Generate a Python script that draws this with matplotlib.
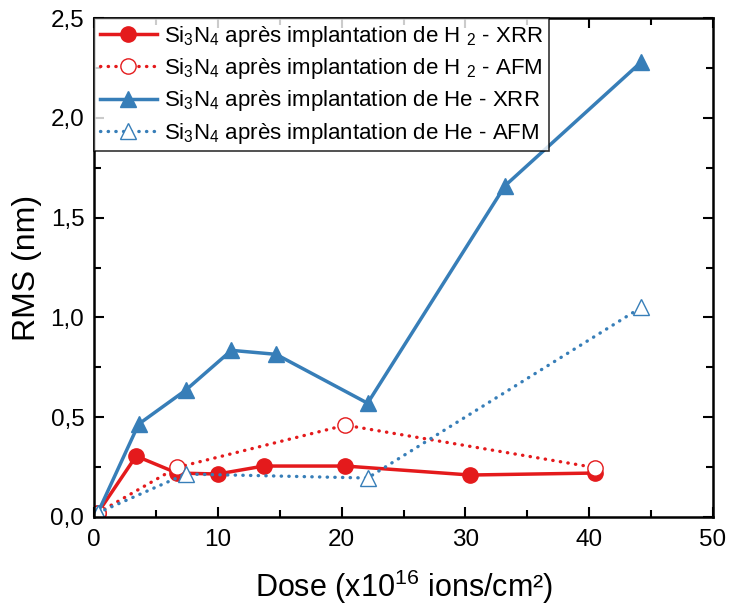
import matplotlib
matplotlib.use("Agg")
import matplotlib.pyplot as plt
from matplotlib.ticker import MultipleLocator, FuncFormatter

plt.rcParams['font.family'] = ['Liberation Sans', 'DejaVu Sans']
plt.rcParams['mathtext.fontset'] = 'custom'
plt.rcParams['mathtext.rm'] = 'Liberation Sans'
plt.rcParams['mathtext.it'] = 'Liberation Sans'

# Data
h2_xrr_x = [0.3, 3.4, 6.7, 10.0, 13.7, 20.3, 30.4, 40.5]
h2_xrr_y = [0.02, 0.305, 0.22, 0.215, 0.255, 0.255, 0.21, 0.22]
h2_afm_x = [0.3, 6.7, 20.3, 40.5]
h2_afm_y = [0.02, 0.248, 0.46, 0.247]
he_xrr_x = [0.3, 3.6, 7.4, 11.1, 14.7, 22.1, 33.2, 44.2]
he_xrr_y = [0.02, 0.465, 0.635, 0.835, 0.815, 0.57, 1.66, 2.28]
he_afm_x = [0.3, 7.4, 22.1, 44.2]
he_afm_y = [0.02, 0.215, 0.195, 1.05]

labels = [r'Si$_3$N$_4$ après implantation de H $_2$ - XRR',
          r'Si$_3$N$_4$ après implantation de H $_2$ - AFM',
          r'Si$_3$N$_4$ après implantation de He - XRR',
          r'Si$_3$N$_4$ après implantation de He - AFM']

red = '#E41A1C'
blue = '#377EB8'

fig = plt.figure(figsize=(7.29, 6.06), dpi=100)
ax = fig.add_axes([0.129, 0.147, 0.849, 0.823])

dot = (0, (0.1, 2.2))
ax.plot(h2_xrr_x, h2_xrr_y, '-', color=red, lw=2.5, marker='o', ms=11,
        mfc=red, mec=red, label=labels[0])
ax.plot(h2_afm_x, h2_afm_y, linestyle=dot, dash_capstyle='round', color=red, lw=2.4,
        marker='o', ms=11, mfc='white', mec=red, mew=1.0, label=labels[1])
ax.plot(he_xrr_x, he_xrr_y, '-', color=blue, lw=2.5, marker='^', ms=12,
        mfc=blue, mec=blue, label=labels[2])
ax.plot(he_afm_x, he_afm_y, linestyle=dot, dash_capstyle='round', color=blue, lw=2.4,
        marker='^', ms=12, mfc='white', mec=blue, mew=1.0, label=labels[3])

ax.set_xlim(0, 50)
ax.set_ylim(0, 2.5)
ax.xaxis.set_major_locator(MultipleLocator(10))
ax.xaxis.set_minor_locator(MultipleLocator(5))
ax.yaxis.set_major_locator(MultipleLocator(0.5))
ax.yaxis.set_minor_locator(MultipleLocator(0.25))
ax.yaxis.set_major_formatter(FuncFormatter(lambda v, p: f"{v:.1f}".replace('.', ',')))
ax.tick_params(which='both', direction='in', top=True, right=True, width=1.5,
               labelsize=17.5)
ax.tick_params(axis='y', which='major', pad=7)
ax.tick_params(axis='x', which='major', pad=9)
ax.tick_params(which='major', length=7)
ax.tick_params(which='minor', length=5)
for s in ax.spines.values():
    s.set_linewidth(1.8)

ax.set_xlabel('Dose (x10$^{16}$ ions/cm²)', fontsize=22, labelpad=12)
ax.set_ylabel('RMS (nm)', fontsize=23, labelpad=6)

leg = ax.legend(loc='upper left', fontsize=16, frameon=True, fancybox=False,
                edgecolor='black', borderaxespad=0, handlelength=2.6,
                handletextpad=0.3, borderpad=0.25, labelspacing=0.33)
leg.get_frame().set_linewidth(1.2)

fig.savefig('out.png', dpi=100)
